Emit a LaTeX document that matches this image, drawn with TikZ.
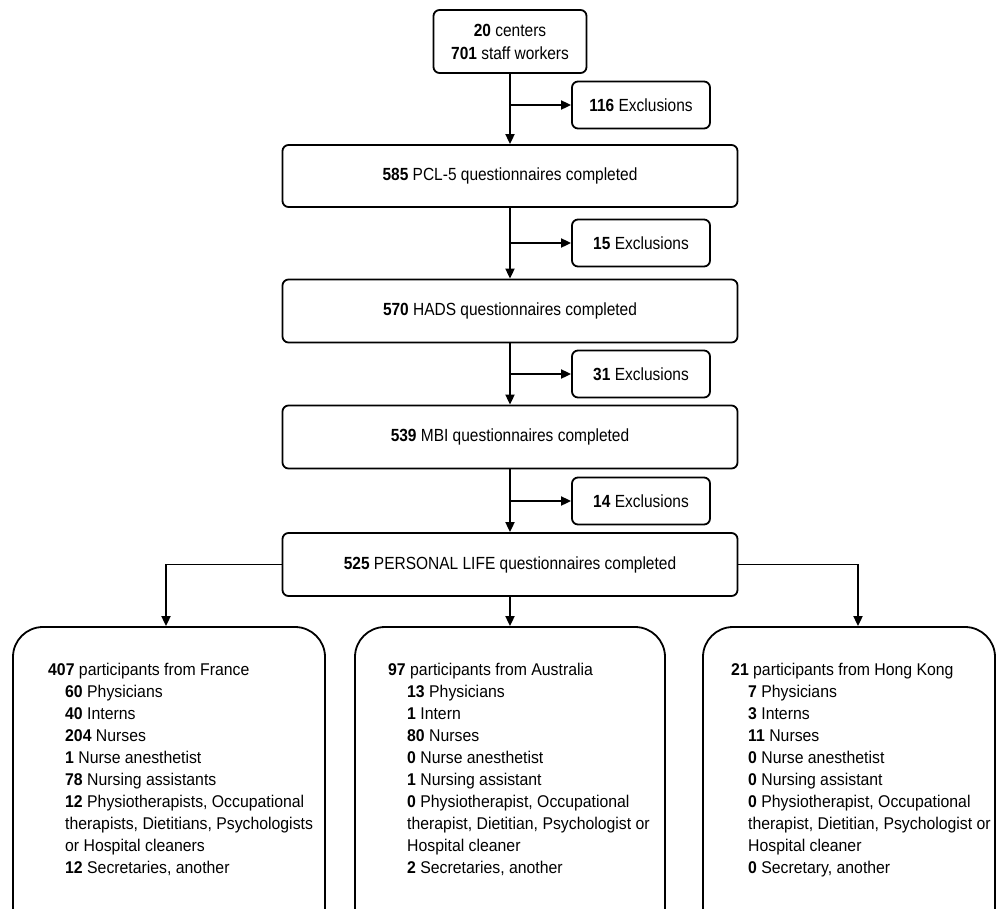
\documentclass[tikz,border=0pt]{standalone}
\usepackage{fontspec}
\setmainfont{Liberation Sans}
\newfontfamily\boxfont[FakeStretch=0.88]{Liberation Sans}
\newfontfamily\listfont[FakeStretch=0.93]{Liberation Sans}
\usetikzlibrary{arrows.meta}
\begin{document}
\begin{tikzpicture}[x=1pt,y=-1pt,
  box/.style={draw, line width=1.8pt, rounded corners=6pt, inner sep=0pt, align=center, font=\boxfont\fontsize{17.6}{23}\selectfont},
  big/.style={draw, line width=1.8pt, rounded corners=30pt, inner sep=0pt},
  lst/.style={inner sep=0pt, anchor=north west, align=left, font=\listfont\fontsize{17}{22}\selectfont},
  arr/.style={line width=1.8pt, -{Triangle[length=10pt,width=9pt]}}]
\useasboundingbox (0,0) rectangle (1001,908);
\clip (0,0) rectangle (1001,908);
% main column
\node[box, minimum width=153pt, minimum height=63pt] (start) at (510,41.5) {\textbf{20} centers\\\textbf{701} staff workers};
\node[box, minimum width=138pt, minimum height=47pt] (ex1) at (641,105) {\textbf{116} Exclusions};
\node[box, minimum width=455pt, minimum height=62pt] (b1) at (510,176) {\textbf{585} PCL-5 questionnaires completed};
\node[box, minimum width=138pt, minimum height=47pt] (ex2) at (641,243) {\textbf{15} Exclusions};
\node[box, minimum width=455pt, minimum height=63pt] (b2) at (510,311) {\textbf{570} HADS questionnaires completed};
\node[box, minimum width=138pt, minimum height=47pt] (ex3) at (641,374) {\textbf{31} Exclusions};
\node[box, minimum width=455pt, minimum height=63pt] (b3) at (510,437) {\textbf{539} MBI questionnaires completed};
\node[box, minimum width=138pt, minimum height=47pt] (ex4) at (641,501) {\textbf{14} Exclusions};
\node[box, minimum width=455pt, minimum height=63pt] (b4) at (510,564.5) {\textbf{525} PERSONAL LIFE questionnaires completed};
% bottom boxes
\node[big, minimum width=312pt, minimum height=310pt] (fr) at (169,782) {};
\node[big, minimum width=310pt, minimum height=310pt] (au) at (510,782) {};
\node[big, minimum width=292pt, minimum height=310pt] (hk) at (849,782) {};
% connectors
\draw[arr] (start) -- (b1);
\draw[arr] (start.south |- ex1) -- (ex1.west);
\draw[arr] (b1) -- (b2);
\draw[arr] (b1.south |- ex2) -- (ex2.west);
\draw[arr] (b2) -- (b3);
\draw[arr] (b2.south |- ex3) -- (ex3.west);
\draw[arr] (b3) -- (b4);
\draw[arr] (b3.south |- ex4) -- (ex4.west);
\draw[arr] (b4.west) -| ([xshift=-3pt]fr.north);
\draw[arr] (b4) -- (au);
\draw[arr] (b4.east) -| ([xshift=9pt]hk.north);
% lists
\node[lst] (frt) at (48,663) {\textbf{407} participants from France\\
\hspace*{17pt}\textbf{60} Physicians\\
\hspace*{17pt}\textbf{40} Interns\\
\hspace*{17pt}\textbf{204} Nurses\\
\hspace*{17pt}\textbf{1} Nurse anesthetist\\
\hspace*{17pt}\textbf{78} Nursing assistants\\
\hspace*{17pt}\textbf{12} Physiotherapists, Occupational\\
\hspace*{17pt}therapists, Dietitians, Psychologists\\
\hspace*{17pt}or Hospital cleaners\\
\hspace*{17pt}\textbf{12} Secretaries, another};
\node[lst] (aut) at (388,663) {\textbf{97} participants from Australia\\
\hspace*{19pt}\textbf{13} Physicians\\
\hspace*{19pt}\textbf{1} Intern\\
\hspace*{19pt}\textbf{80} Nurses\\
\hspace*{19pt}\textbf{0} Nurse anesthetist\\
\hspace*{19pt}\textbf{1} Nursing assistant\\
\hspace*{19pt}\textbf{0} Physiotherapist, Occupational\\
\hspace*{19pt}therapist, Dietitian, Psychologist or\\
\hspace*{19pt}Hospital cleaner\\
\hspace*{19pt}\textbf{2} Secretaries, another};
\node[lst] (hkt) at (731,663) {\textbf{21} participants from Hong Kong\\
\hspace*{17pt}\textbf{7} Physicians\\
\hspace*{17pt}\textbf{3} Interns\\
\hspace*{17pt}\textbf{11} Nurses\\
\hspace*{17pt}\textbf{0} Nurse anesthetist\\
\hspace*{17pt}\textbf{0} Nursing assistant\\
\hspace*{17pt}\textbf{0} Physiotherapist, Occupational\\
\hspace*{17pt}therapist, Dietitian, Psychologist or\\
\hspace*{17pt}Hospital cleaner\\
\hspace*{17pt}\textbf{0} Secretary, another};
\end{tikzpicture}
\end{document}
